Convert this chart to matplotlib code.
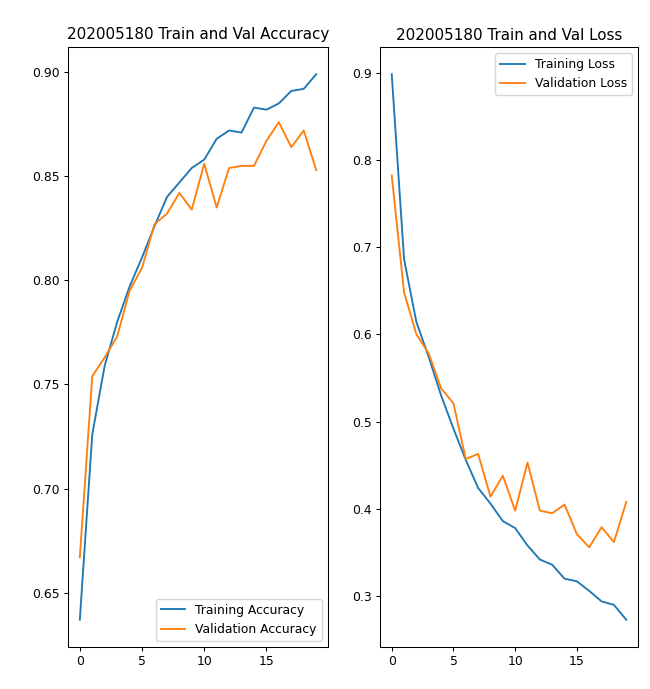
import matplotlib
matplotlib.use("Agg")
import matplotlib.pyplot as plt

epochs = list(range(20))
train_acc = [0.637, 0.726, 0.759, 0.780, 0.797, 0.811, 0.826, 0.840, 0.847, 0.854,
             0.858, 0.868, 0.872, 0.871, 0.883, 0.882, 0.885, 0.891, 0.892, 0.899]
val_acc = [0.667, 0.754, 0.763, 0.773, 0.795, 0.806, 0.827, 0.832, 0.842, 0.834,
           0.856, 0.835, 0.854, 0.855, 0.855, 0.867, 0.876, 0.864, 0.872, 0.853]
train_loss = [0.898, 0.686, 0.614, 0.574, 0.530, 0.492, 0.456, 0.424, 0.406, 0.386,
              0.378, 0.358, 0.342, 0.336, 0.320, 0.317, 0.306, 0.294, 0.290, 0.273]
val_loss = [0.782, 0.648, 0.600, 0.578, 0.538, 0.521, 0.457, 0.463, 0.414, 0.438,
            0.398, 0.453, 0.398, 0.395, 0.405, 0.371, 0.356, 0.379, 0.362, 0.408]

s = 1.0 / 1.38  # scale from reference pixel density
plt.rcParams.update({
    "font.size": 8.9,
    "axes.linewidth": 0.75,
    "xtick.major.size": 3.1,
    "ytick.major.size": 3.1,
    "xtick.major.width": 0.75,
    "ytick.major.width": 0.75,
    "xtick.major.pad": 2.8,
    "ytick.major.pad": 2.8,
})

fig = plt.figure(figsize=(6.5, 6.89), dpi=100)
ax1 = fig.add_axes([68/650, 42/689, 260/650, 600/689])
ax2 = fig.add_axes([380/650, 42/689, 258/650, 600/689])

lw = 1.35
ax1.plot(epochs, train_acc, label="Training Accuracy", lw=lw)
ax1.plot(epochs, val_acc, label="Validation Accuracy", lw=lw)
ax1.legend(loc="lower right", fontsize=8.9)
ax1.set_title("202005180 Train and Val Accuracy", fontsize=10.9, pad=5.4)

ax2.plot(epochs, train_loss, label="Training Loss", lw=lw)
ax2.plot(epochs, val_loss, label="Validation Loss", lw=lw)
ax2.legend(loc="upper right", fontsize=8.9)
ax2.set_title("202005180 Train and Val Loss", fontsize=10.9, pad=5.4)

ax1.set_xticks([0, 5, 10, 15])
ax2.set_xticks([0, 5, 10, 15])

fig.savefig("out.png", dpi=100)
